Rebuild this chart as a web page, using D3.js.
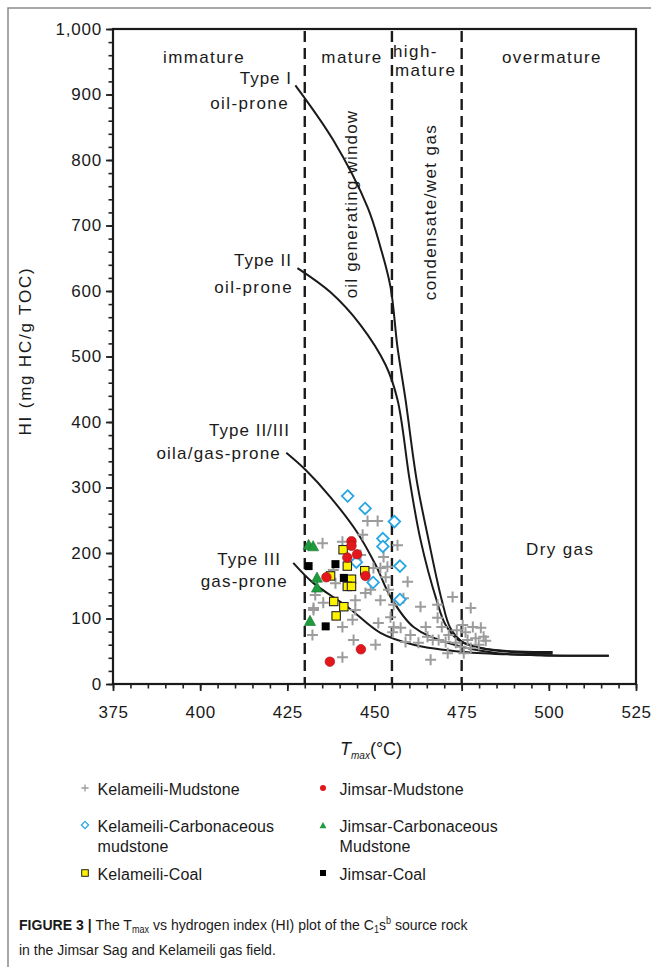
<!DOCTYPE html>
<html>
<head>
<meta charset="utf-8">
<script src="https://d3js.org/d3.v7.min.js"></script>
<style>
  body { margin: 0; background: #fff; }
  text { font-family: "Liberation Sans", Arial, sans-serif; fill: #1a1a1a; }
</style>
</head>
<body>
<svg id="chart" width="651" height="967"></svg>
<script>
// samples: [Tmax (°C), HI (mg HC/g TOC)]
var kelameiliMudstone = [
  [448.0,249],[450.9,249],[435.1,215],[440.8,217],[446.6,228],[452.6,194],[451.7,177],[453.2,163],
  [438.2,174],[448.9,144],[438.8,154],[456.6,212],[453.7,179],[459.5,156],[458.3,131],[455.5,121],
  [454.6,102],[463.2,118],[468.1,121],[472.4,133],[477.6,116],[457.5,86],[455.2,79],[460.3,75],
  [464.7,87],[468.1,101],[465.2,72],[466.7,67],[468.4,67],[470.4,64],[471.3,75],[475.3,90],
  [476.1,79],[478.2,87],[480.5,86],[473.3,63],[474.7,57],[476.7,67],[479.0,70],[481.3,72],
  [475.6,47],[471.0,47],[466.1,37],[433.0,136],[435.3,124],[432.5,116],[432.2,75],[440.8,87],
  [444.0,67],[443.7,98],[447.4,139],[451.1,93],[450.3,60],[440.8,41],[446.0,197],[449.7,177],
  [454.0,144],[455.5,87],[477.6,55],[479.9,60],[481.9,66],[473.6,82],[469.3,87],[462.6,63],
  [458.9,64],[444.5,128],[432.5,113],[444.5,113],[451.7,128]
];
var kelameiliCarbMudstone = [
  [442.3,287],[447.3,268],[455.7,248],[452.4,222],[452.4,210],[444.8,186],[457.3,180],[449.6,155],[457.3,129]
];
var kelameiliCoal = [
  [441.0,205],[442.2,180],[447.2,173],[437.4,165],[443.4,160],[442.2,149],[443.4,149],[438.3,126],[441.2,118],[439.0,104]
];
var jimsarMudstone = [
  [443.4,218],[443.4,211],[445.0,198],[442.2,193],[447.4,165],[436.2,163],[446.1,53],[437.2,34]
];
var jimsarCarbMudstone = [
  [431.1,212],[432.4,210],[433.5,162],[433.5,147],[431.5,96]
];
var jimsarCoal = [
  [431.1,180],[438.8,183],[441.2,162],[436.0,88]
];

// kerogen type evolution curves
var typeI = [[427.3,914],[438.2,830],[448.0,728],[451.7,667],[454.6,606],[456.6,514],[458.9,434],[462.1,311],
  [465.5,220],[469.3,128],[471.8,85],[475.3,64],[480.5,55],[489.1,50],[501.1,49]];
var typeII = [[427.9,635],[437.4,598],[446.0,548],[453.2,487],[456.6,434],[460.1,311],[463.2,220],[467.8,128],
  [470.4,90],[474.1,67],[480.5,55],[489.1,49],[501.1,46]];
var typeIIIII = [[424.7,353],[430.2,327],[437.4,285],[445.1,231],[450.3,182],[454.6,133],[461.2,87],[471.0,63],
  [485.3,47],[497.7,44],[517.2,43]];
var typeIII = [[426.7,185],[432.5,154],[442.2,118],[451.7,78],[461.2,60],[475.6,49],[497.7,44],[517.2,43]];

// maturity boundaries (Tmax)
var boundaries = [430, 455, 475];
var xTicks = [375, 400, 425, 450, 475, 500, 525];
var yTicks = [0, 100, 200, 300, 400, 500, 600, 700, 800, 900, 1000];

var svg = d3.select("#chart");
svg.append("rect").attr("width", 651).attr("height", 967).attr("fill", "#fff");

// panel border
svg.append("rect").attr("x", 8).attr("y", 8).attr("width", 700).attr("height", 1000)
  .attr("fill", "none").attr("stroke", "#8a8a8a").attr("stroke-width", 1.5);

var x = d3.scaleLinear().domain([375, 525]).range([113, 636]);
var y = d3.scaleLinear().domain([0, 1000]).range([684, 29]);

// minor ticks
svg.append("g").attr("transform", "translate(0," + y(0) + ")")
  .call(d3.axisBottom(x).tickValues(d3.range(375, 526, 5)).tickSize(4.5).tickFormat(""))
  .call(function (g) { g.select(".domain").remove(); g.selectAll("line").attr("stroke-width", 1.6).attr("stroke", "#222"); });
svg.append("g").attr("transform", "translate(" + x(375) + ",0)")
  .call(d3.axisLeft(y).tickValues(d3.range(0, 1001, 20)).tickSize(4.5).tickFormat(""))
  .call(function (g) { g.select(".domain").remove(); g.selectAll("line").attr("stroke-width", 1.6).attr("stroke", "#222"); });

// major ticks
svg.append("g").attr("transform", "translate(0," + y(0) + ")")
  .call(d3.axisBottom(x).tickValues(xTicks).tickSize(7).tickPadding(15))
  .call(function (g) {
    g.select(".domain").remove();
    g.selectAll("line").attr("stroke-width", 1.8).attr("stroke", "#222");
    g.selectAll("text").style("font-size", "17px").style("letter-spacing", "0.6px").attr("fill", "#1a1a1a");
  });
svg.append("g").attr("transform", "translate(" + x(375) + ",0)")
  .call(d3.axisLeft(y).tickValues(yTicks).tickSize(7).tickPadding(4).tickFormat(d3.format(",")))
  .call(function (g) {
    g.select(".domain").remove();
    g.selectAll("line").attr("stroke-width", 1.8).attr("stroke", "#222");
    g.selectAll("text").style("font-size", "17px").style("letter-spacing", "0.8px").attr("fill", "#1a1a1a");
  });

// frame
svg.append("rect").attr("x", x(375)).attr("y", y(1000))
  .attr("width", x(525) - x(375)).attr("height", y(0) - y(1000))
  .attr("fill", "none").attr("stroke", "#1a1a1a").attr("stroke-width", 2.2);

// maturity boundaries
svg.selectAll(".bound").data(boundaries).enter().append("line")
  .attr("x1", function (d) { return x(d); }).attr("x2", function (d) { return x(d); })
  .attr("y1", y(1000) + 2).attr("y2", y(0))
  .attr("stroke", "#1a1a1a").attr("stroke-width", 2.4).attr("stroke-dasharray", "11,6");

// curves
var line = d3.line().x(function (d) { return x(d[0]); }).y(function (d) { return y(d[1]); })
  .curve(d3.curveCatmullRom.alpha(0.5));
svg.selectAll(".curve").data([typeI, typeII, typeIIIII, typeIII]).enter().append("path")
  .attr("d", line).attr("fill", "none").attr("stroke", "#1a1a1a").attr("stroke-width", 2);

// zone labels
function label(txt, px, py, anchor, size, ls) {
  return svg.append("text").attr("x", px).attr("y", py).attr("text-anchor", anchor || "start")
    .style("font-size", (size || 17) + "px").style("letter-spacing", (ls === undefined ? 1.4 : ls) + "px").text(txt);
}
label("immature", 204, 63, "middle");
label("mature", 352, 63, "middle");
label("high-", 393, 57);
label("mature", 395, 76);
label("overmature", 552, 63, "middle");
label("Dry gas", 526, 555);

svg.append("text").attr("transform", "translate(357,204) rotate(-90)").attr("text-anchor", "middle")
  .style("font-size", "17px").style("letter-spacing", "1.2px").text("oil generating window");
svg.append("text").attr("transform", "translate(436,212) rotate(-90)").attr("text-anchor", "middle")
  .style("font-size", "17px").style("letter-spacing", "1.4px").text("condensate/wet gas");

label("Type I", 292, 84, "end", 17, 1);
label("oil-prone", 289, 109, "end", 17, 1.4);
label("Type II", 292, 266, "end", 17, 1);
label("oil-prone", 293, 293, "end", 17, 1.4);
label("Type  II/III", 290, 436, "end", 17, 1);
label("oila/gas-prone", 281, 459, "end", 17, 1.2);
label("Type III", 281, 565, "end", 17, 1);
label("gas-prone", 288, 587, "end", 17, 1.2);

// axis titles
svg.append("text").attr("transform", "translate(31,351) rotate(-90)").attr("text-anchor", "middle")
  .style("font-size", "17px").style("letter-spacing", "1.8px").text("HI (mg HC/g TOC)");
var xt = svg.append("text").attr("x", 340).attr("y", 755).style("font-size", "18px");
xt.append("tspan").style("font-style", "italic").text("T");
xt.append("tspan").style("font-style", "italic").style("font-size", "10px").attr("dy", 4).text("max");
xt.append("tspan").attr("dy", -4).text("(°C)");

// markers
var crossPath = function (s) { return "M" + (-s) + ",0H" + s + "M0," + (-s) + "V" + s; };
var diamondPath = function (s) { return "M0," + (-s) + "L" + s + ",0L0," + s + "L" + (-s) + ",0Z"; };
var triPath = function (s) { return "M0," + (-s) + "L" + (s * 0.95) + "," + (s * 0.75) + "L" + (-s * 0.95) + "," + (s * 0.75) + "Z"; };

var gPts = svg.append("g");
gPts.selectAll(".km").data(kelameiliMudstone).enter().append("path")
  .attr("transform", function (d) { return "translate(" + x(d[0]) + "," + y(d[1]) + ")"; })
  .attr("d", crossPath(5.5)).attr("stroke", "#9c9c9c").attr("stroke-width", 2).attr("fill", "none");
gPts.selectAll(".kc").data(kelameiliCarbMudstone).enter().append("path")
  .attr("transform", function (d) { return "translate(" + x(d[0]) + "," + y(d[1]) + ")"; })
  .attr("d", diamondPath(5.8)).attr("stroke", "#27a6e4").attr("stroke-width", 1.8).attr("fill", "#fff");
gPts.selectAll(".kco").data(kelameiliCoal).enter().append("rect")
  .attr("x", function (d) { return x(d[0]) - 4.2; }).attr("y", function (d) { return y(d[1]) - 4.2; })
  .attr("width", 8.4).attr("height", 8.4).attr("fill", "#fff200").attr("stroke", "#222").attr("stroke-width", 1.1);
gPts.selectAll(".jm").data(jimsarMudstone).enter().append("circle")
  .attr("cx", function (d) { return x(d[0]); }).attr("cy", function (d) { return y(d[1]); })
  .attr("r", 4.8).attr("fill", "#e3161c").attr("stroke", "#a50f14").attr("stroke-width", 0.6);
gPts.selectAll(".jc").data(jimsarCarbMudstone).enter().append("path")
  .attr("transform", function (d) { return "translate(" + x(d[0]) + "," + y(d[1]) + ")"; })
  .attr("d", triPath(5.8)).attr("fill", "#1e9b3c").attr("stroke", "#14702a").attr("stroke-width", 0.6);
gPts.selectAll(".jco").data(jimsarCoal).enter().append("rect")
  .attr("x", function (d) { return x(d[0]) - 4; }).attr("y", function (d) { return y(d[1]) - 4; })
  .attr("width", 8).attr("height", 8).attr("fill", "#000");

// legend
var legendItems = [
  { name: ["Kelameili-Mudstone"], col: 0, row: 0, kind: "cross" },
  { name: ["Jimsar-Mudstone"], col: 1, row: 0, kind: "circle" },
  { name: ["Kelameili-Carbonaceous", "mudstone"], col: 0, row: 1, kind: "diamond" },
  { name: ["Jimsar-Carbonaceous", "Mudstone"], col: 1, row: 1, kind: "tri" },
  { name: ["Kelameili-Coal"], col: 0, row: 2, kind: "ysq" },
  { name: ["Jimsar-Coal"], col: 1, row: 2, kind: "bsq" }
];
var colX = [85, 323], rowY = [795, 832, 880];
legendItems.forEach(function (it) {
  var mx = colX[it.col], by = rowY[it.row], my = by - 7;
  var g = svg.append("g");
  if (it.kind === "cross") g.append("path").attr("transform", "translate(" + mx + "," + my + ")").attr("d", crossPath(3.6)).attr("stroke", "#9c9c9c").attr("stroke-width", 1.3);
  if (it.kind === "circle") g.append("circle").attr("cx", mx).attr("cy", my).attr("r", 3).attr("fill", "#e3161c");
  if (it.kind === "diamond") g.append("path").attr("transform", "translate(" + mx + "," + my + ")").attr("d", diamondPath(3.6)).attr("stroke", "#27a6e4").attr("stroke-width", 1.3).attr("fill", "#fff");
  if (it.kind === "tri") g.append("path").attr("transform", "translate(" + mx + "," + (my + 0.5) + ")").attr("d", triPath(3.6)).attr("fill", "#1e9b3c");
  if (it.kind === "ysq") g.append("rect").attr("x", mx - 3.3).attr("y", my - 3.3).attr("width", 6.6).attr("height", 6.6).attr("fill", "#fff200").attr("stroke", "#222").attr("stroke-width", 1);
  if (it.kind === "bsq") g.append("rect").attr("x", mx - 3).attr("y", my - 3).attr("width", 6).attr("height", 6).attr("fill", "#000");
  it.name.forEach(function (t, i) {
    g.append("text").attr("x", mx + (it.col === 0 ? 12.5 : 16.5)).attr("y", by + i * 20)
      .style("font-size", "16px").style("letter-spacing", "0.1px").text(t);
  });
});

// caption
var cap = svg.append("g");
var l1 = cap.append("text").attr("x", 19).attr("y", 930).style("font-size", "15.5px");
l1.append("tspan").style("font-weight", "bold").text("FIGURE 3 | ");
l1.append("tspan").text("The T");
l1.append("tspan").attr("dy", 3).style("font-size", "10px").text("max");
l1.append("tspan").attr("dy", -3).text(" vs hydrogen index (HI) plot of the C");
l1.append("tspan").attr("dy", 3).style("font-size", "10px").text("1");
l1.append("tspan").attr("dy", -3).text("s");
l1.append("tspan").attr("dy", -6).style("font-size", "10px").text("b");
l1.append("tspan").attr("dy", 6).text(" source rock");
var l2 = cap.append("text").attr("x", 19).attr("y", 955).style("font-size", "15.5px")
  .text("in the Jimsar Sag and Kelameili gas field.");
var sx = 449 / l1.node().getComputedTextLength();
cap.attr("transform", "translate(19,0) scale(" + sx + ",1) translate(-19,0)");
</script>
</body>
</html>
